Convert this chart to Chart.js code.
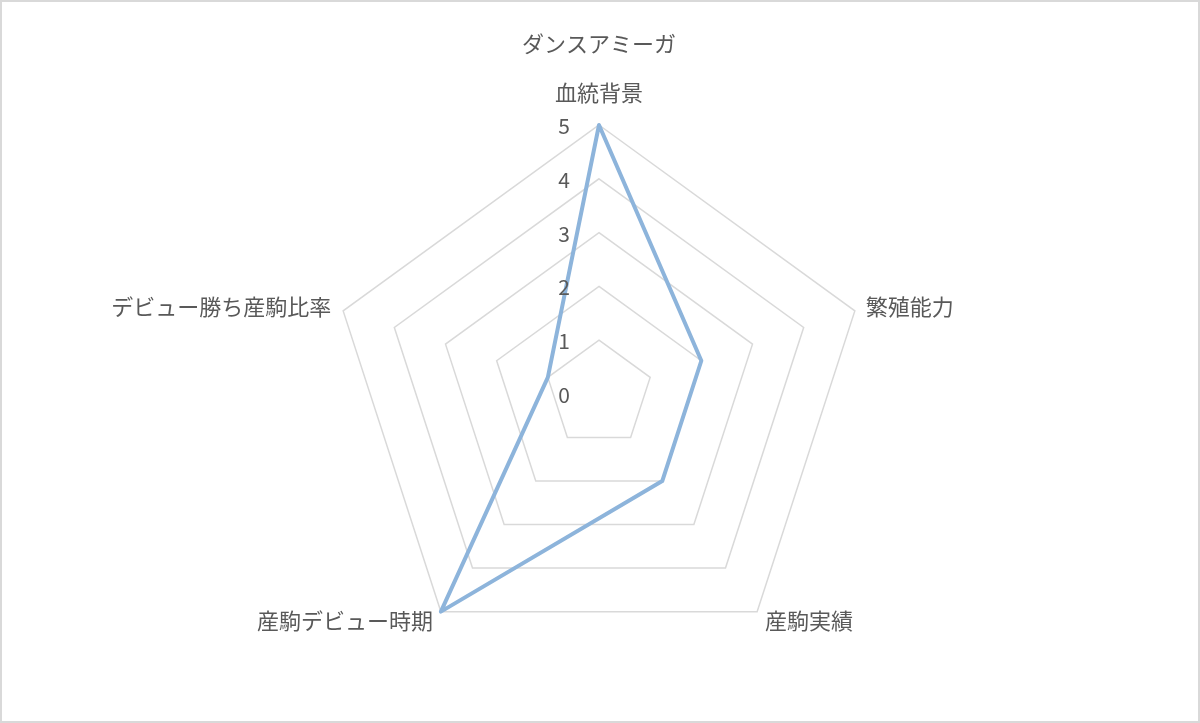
<!DOCTYPE html>
<html>
<head>
<meta charset="utf-8">
<script src="https://cdn.jsdelivr.net/npm/chart.js@4.4.1/dist/chart.umd.min.js"></script>
<style>
  html, body { margin: 0; padding: 0; background: #fff; }
  #wrap { width: 1200px; height: 723px; position: relative; }
</style>
</head>
<body>
<div id="wrap"><canvas id="chart" width="1200" height="723"></canvas></div>
<script>
// chart data
const chartTitle = 'ダンスアミーガ';
const categories = ['血統背景', '繁殖能力', '産駒実績', '産駒デビュー時期', 'デビュー勝ち産駒比率'];
const seriesValues = [5, 2, 2, 5, 1];
const tickValues = [0, 1, 2, 3, 4, 5];

const FONT = '"Noto Sans CJK JP", "Noto Sans", sans-serif';
const TEXT_COLOR = '#595959';

// draws frame, title, point labels and tick labels (Excel-like placement)
const excelDecor = {
    id: 'excelDecor',
    beforeDraw(chart) {
        const ctx = chart.ctx;
        ctx.save();
        ctx.fillStyle = '#ffffff';
        ctx.fillRect(0, 0, chart.width, chart.height);
        ctx.strokeStyle = '#d9d9d9';
        ctx.lineWidth = 2;
        ctx.strokeRect(1, 1, chart.width - 2, chart.height - 2);
        ctx.restore();
    },
    afterDatasetsDraw(chart) {
        const ctx = chart.ctx;
        const scale = chart.scales.r;
        ctx.save();
        ctx.fillStyle = TEXT_COLOR;

        // title
        ctx.font = '22px ' + FONT;
        ctx.textAlign = 'center';
        ctx.textBaseline = 'middle';
        ctx.fillText(chartTitle, scale.xCenter, 44);

        // category labels
        ctx.font = '22px ' + FONT;
        categories.forEach((label, i) => {
            const p = scale.getPointPosition(i, scale.drawingArea);
            let x = p.x, y = p.y;
            if (Math.abs(p.x - scale.xCenter) < 5) {
                ctx.textAlign = 'center';
                y = p.y - 32;
            } else if (p.x > scale.xCenter) {
                ctx.textAlign = 'left';
                x = p.x + (p.y < scale.yCenter ? 11 : 8);
                y = p.y + (p.y < scale.yCenter ? -4 : 9);
            } else {
                ctx.textAlign = 'right';
                x = p.x - (p.y < scale.yCenter ? 12 : 8);
                y = p.y + (p.y < scale.yCenter ? -4 : 9);
            }
            ctx.fillText(label, x, y);
        });

        // tick labels beside the first axis
        ctx.font = '21px ' + FONT;
        ctx.textAlign = 'center';
        tickValues.forEach(v => {
            const p = scale.getPointPosition(0, scale.getDistanceFromCenterForValue(v));
            ctx.fillText(String(v), p.x - 35, p.y + 1);
        });
        ctx.restore();
    }
};

new Chart(document.getElementById('chart'), {
    type: 'radar',
    data: {
        labels: categories,
        datasets: [{
            label: chartTitle,
            data: seriesValues,
            borderColor: '#8db4db',
            backgroundColor: 'rgba(0,0,0,0)',
            borderWidth: 4,
            pointRadius: 0,
            pointHoverRadius: 0,
            fill: false,
            tension: 0,
            borderJoinStyle: 'round'
        }]
    },
    options: {
        responsive: false,
        animation: false,
        layout: { padding: { left: 0, right: 2, top: 125, bottom: 60 } },
        plugins: {
            legend: { display: false },
            title: { display: false },
            tooltip: { enabled: false }
        },
        scales: {
            r: {
                min: 0,
                max: 5,
                ticks: { stepSize: 1, display: false },
                grid: { color: '#d9d9d9', lineWidth: 1.5 },
                angleLines: { display: false },
                pointLabels: { display: false }
            }
        }
    },
    plugins: [excelDecor]
});
</script>
</body>
</html>
